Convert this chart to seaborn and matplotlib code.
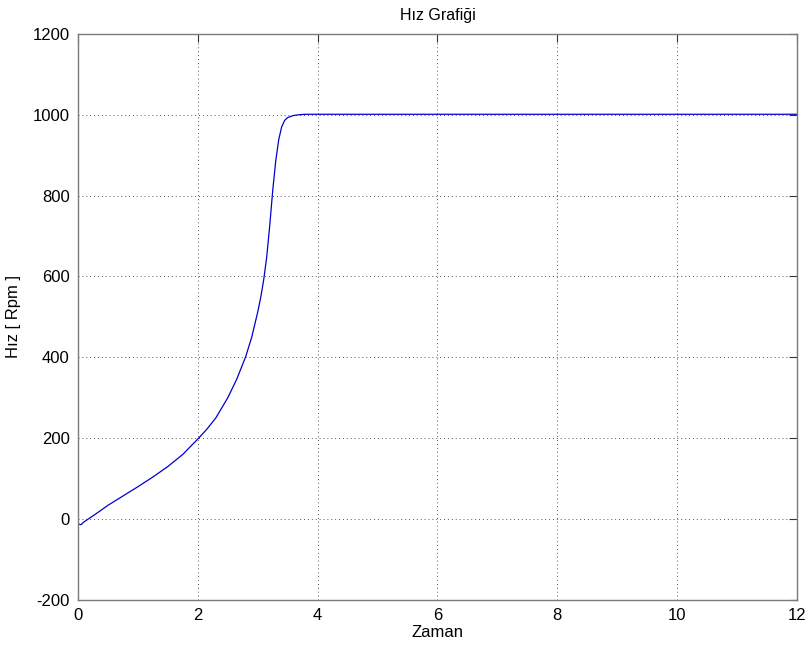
import numpy as np
import pandas as pd
import seaborn as sns
import matplotlib
matplotlib.use("Agg")
import matplotlib.pyplot as plt

# values
zaman = [0.0, 0.05, 0.1, 0.2, 0.3, 0.5, 0.75, 1.0, 1.25, 1.5, 1.75, 2.0,
         2.15, 2.3, 2.5, 2.65, 2.8, 2.9, 3.0, 3.05, 3.1, 3.15, 3.2, 3.25,
         3.3, 3.35, 3.4, 3.45, 3.5, 3.6, 3.7, 3.8, 4.0, 6.0, 8.0, 10.0, 12.0]
hiz = [-12, -14, -7, 3, 13, 34, 57, 80, 104, 130, 160, 198,
       222, 250, 300, 346, 402, 450, 512, 548, 592, 648, 725, 812,
       885, 938, 970, 986, 993, 998, 1000, 1001, 1001, 1001, 1001, 1001, 1001]

df = pd.DataFrame({"Zaman": zaman, "Hiz": hiz})

sns.set_style("white")
plt.rcParams['font.family'] = ['Liberation Sans', 'DejaVu Sans']
plt.rcParams['axes.unicode_minus'] = False

fig = plt.figure(figsize=(8.09, 6.5), dpi=100)
ax = fig.add_axes([0.0964, 0.077, 0.8887, 0.871])

sns.lineplot(data=df, x="Zaman", y="Hiz", ax=ax, color=(0, 0, 0.8),
             linewidth=0.9, estimator=None, sort=False)

ax.set_xlim(0, 12)
ax.set_ylim(-200, 1200)
ax.set_xticks(np.arange(0, 13, 2))
ax.set_yticks(np.arange(-200, 1201, 200))
ax.grid(True, linestyle=(0, (1, 3)), color="#555555", linewidth=0.7)
for s in ax.spines.values():
    s.set_color("#7a7a7a")
    s.set_linewidth(1.0)
ax.tick_params(direction="in", length=6, width=0.8, color="#333333",
               labelsize=12, labelcolor="black", top=True, right=True, pad=6)

ax.set_title("Hız Grafiği", fontsize=11.5, pad=10, color="black")
ax.set_xlabel("Zaman", fontsize=12, labelpad=1, color="black")
ax.set_ylabel("Hız [ Rpm ]", fontsize=12, labelpad=8, color="black")

fig.savefig("out.png", dpi=100, facecolor="white")
